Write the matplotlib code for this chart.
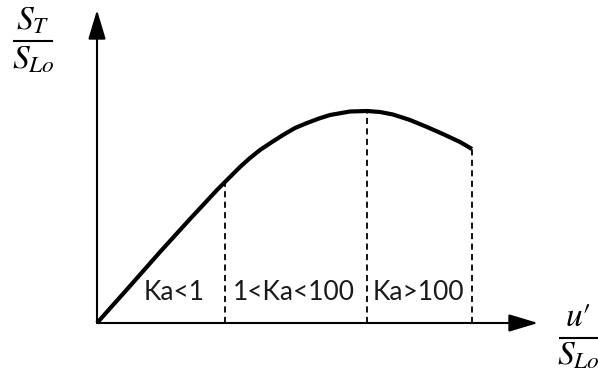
import numpy as np
import matplotlib.pyplot as plt
from matplotlib.lines import Line2D

plt.rcParams['mathtext.fontset'] = 'stix'

# turbulent flame speed vs. turbulence intensity (arbitrary units)
u_ratio = [0, 3.3, 6.3, 9.3, 12.0, 13.2, 14.3, 15.3, 16.3, 17.5, 18.6, 19.8,
           21.0, 22.2, 23.3, 25.3, 27.0, 28.3, 29.6, 31.3, 33.0, 34.7, 36.3, 37.5]
st_ratio = [0, 3.7, 7.1, 10.4, 13.3, 14.5, 15.6, 16.5, 17.3, 18.1, 18.8, 19.5,
            20.0, 20.45, 20.8, 21.15, 21.2, 21.1, 20.85, 20.3, 19.6, 18.85, 18.1, 17.4]

# regime boundaries and labels
bounds = [12.8, 27.0, 37.5]
regimes = ['Ka<1', '1<Ka<100', 'Ka>100']
regime_x = [7.7, 19.7, 32.1]

W, H = 598, 372
f = plt.figure(figsize=(W / 100, H / 100), dpi=100)
ax = f.add_axes([0, 0, 1, 1])
ax.set_xlim(-9.7, 50.1)
ax.set_ylim(-4.9, 32.3)
ax.axis('off')

ax.plot(u_ratio, st_ratio, color='black', lw=3.0, solid_capstyle='butt',
        solid_joinstyle='round')

# dashed drops from the curve to the axis
for b in bounds:
    top = np.interp(b, u_ratio, st_ratio)
    ax.plot([b, b], [0, top], color='black', lw=1.3, ls=(0, (3.4, 2.4)))

for x, lab in zip(regime_x, regimes):
    ax.text(x, 3.1, lab, ha='center', va='center', fontsize=19,
            family='Lato', color='#1a1a1a')

# axes with arrow heads
arrow = dict(arrowstyle='-|>,head_length=0.9,head_width=0.27', lw=1.5,
             color='black', mutation_scale=20, shrinkA=0, shrinkB=0)
ax.annotate('', xy=(0, 31.3), xytext=(0, 0), arrowprops=arrow)
ax.annotate('', xy=(44.1, 0), xytext=(0, 0), arrowprops=arrow)

# fraction labels for the axes
def frac(cx, top_y, bar_y, bot_y, x0, x1, num, den):
    f.text(cx / W, 1 - top_y / H, num, ha='center', va='center', fontsize=24,
           family='STIXGeneral')
    f.text(cx / W, 1 - bot_y / H, den, ha='center', va='center', fontsize=24,
           family='STIXGeneral')
    f.add_artist(Line2D([x0 / W, x1 / W], [1 - bar_y / H, 1 - bar_y / H],
                        color='black', lw=1.5, transform=f.transFigure))

frac(33, 21, 41, 60, 14, 52, r'$S_T$', r'$S_{Lo}$')
frac(578, 318, 338, 356, 560, 598, '$u$\u2032', r'$S_{Lo}$')

f.savefig('out.png', dpi=100)
